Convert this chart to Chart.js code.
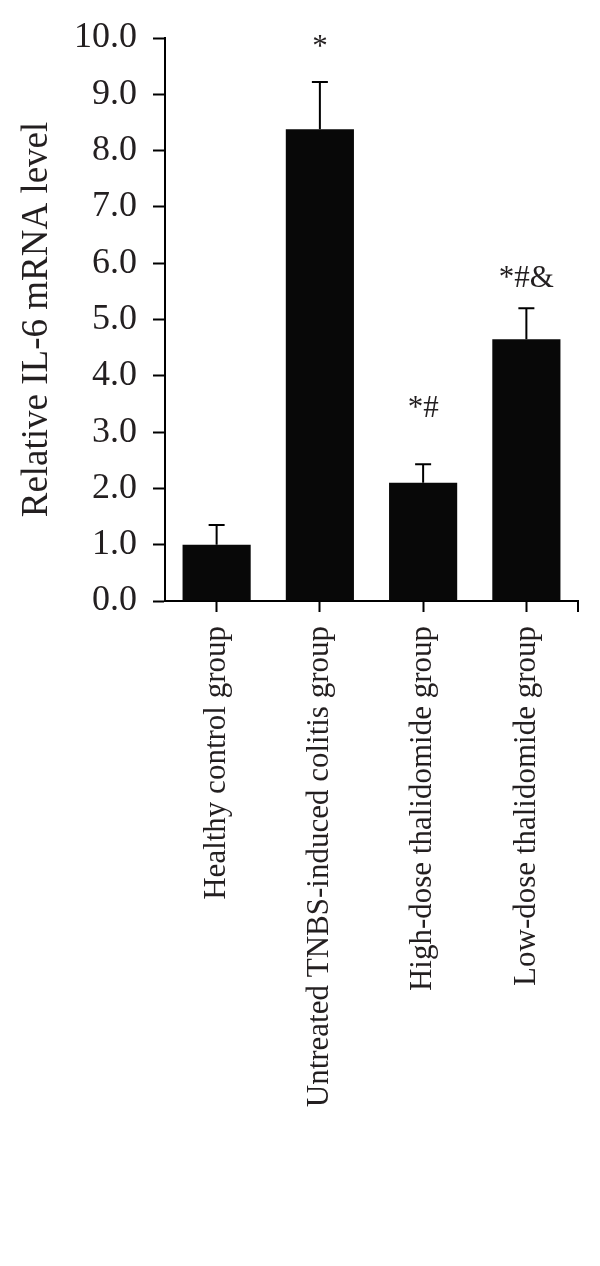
<!DOCTYPE html>
<html>
<head>
<meta charset="utf-8">
<script src="https://cdn.jsdelivr.net/npm/chart.js@4"></script>
<style>
  body { margin: 0; background: #fff; }
  #wrap { width: 600px; height: 1266px; position: relative; }
</style>
</head>
<body>
<div id="wrap"><canvas id="il6Chart"></canvas></div>
<script>
// data
const groups = ["Healthy control group", "Untreated TNBS-induced colitis group", "High-dose thalidomide group", "Low-dose thalidomide group"];
const il6Means = [1.0, 8.38, 2.1, 4.65];
const il6Errors = [0.35, 0.84, 0.33, 0.55];
const sigMarks = ["", "*", "*#", "*#&"];
const sigMarkY = [0, 9.82, 3.42, 5.72];
const yTicks = [0, 1, 2, 3, 4, 5, 6, 7, 8, 9, 10];

const ink = '#231f20';
const serif = "'Liberation Serif', 'DejaVu Serif', serif";

// error bars + significance marks, placed through the scales
const errorBarPlugin = {
  id: 'errorBars',
  afterDatasetsDraw(chart) {
    const ctx = chart.ctx;
    const xs = chart.scales.x, ys = chart.scales.y;
    ctx.save();
    ctx.strokeStyle = '#000';
    ctx.lineWidth = 2;
    for (let i = 0; i < il6Means.length; i++) {
      const x = xs.getPixelForValue(i);
      const yTop = ys.getPixelForValue(il6Means[i] + il6Errors[i]);
      const yBar = ys.getPixelForValue(il6Means[i]);
      ctx.beginPath();
      ctx.moveTo(x, yBar);
      ctx.lineTo(x, yTop);
      ctx.moveTo(x - 8, yTop);
      ctx.lineTo(x + 8, yTop);
      ctx.stroke();
      if (sigMarks[i]) {
        ctx.fillStyle = ink;
        ctx.font = "31px " + serif;
        ctx.textAlign = 'center';
        ctx.textBaseline = 'middle';
        ctx.fillText(sigMarks[i], x, ys.getPixelForValue(sigMarkY[i]));
      }
    }
    // small tick at the right end of the x axis
    const a = chart.chartArea;
    ctx.beginPath();
    ctx.moveTo(a.right, a.bottom);
    ctx.lineTo(a.right, a.bottom + 11);
    ctx.stroke();
    ctx.restore();
  }
};

new Chart("il6Chart", {
  type: "bar",
  data: {
    labels: groups,
    datasets: [{
      data: il6Means,
      backgroundColor: "#080808",
      borderWidth: 0,
      barPercentage: 0.66,
      categoryPercentage: 1.0
    }]
  },
  options: {
    responsive: true,
    maintainAspectRatio: false,
    animation: false,
    layout: { padding: { top: 38, right: 22, left: 0, bottom: 0 } },
    plugins: {
      legend: { display: false },
      tooltip: { enabled: false }
    },
    scales: {
      x: {
        afterFit(scale) { scale.height = 665; },
        grid: {
          offset: false,
          drawOnChartArea: false,
          drawTicks: true,
          tickLength: 11,
          tickWidth: 2,
          tickColor: '#000'
        },
        border: { display: true, color: '#000', width: 2 },
        ticks: {
          maxRotation: 90,
          minRotation: 90,
          padding: 14,
          color: ink,
          font: { family: serif, size: 31 }
        }
      },
      y: {
        min: 0,
        max: 10,
        afterFit(scale) { scale.width = 165; },
        afterBuildTicks(scale) { scale.ticks = yTicks.map(v => ({ value: v })); },
        grid: {
          drawOnChartArea: false,
          drawTicks: true,
          tickLength: 12,
          tickWidth: 2,
          tickColor: '#000'
        },
        border: { display: true, color: '#000', width: 2 },
        ticks: {
          padding: 16,
          color: ink,
          font: { family: serif, size: 36 },
          callback: v => Number(v).toFixed(1)
        },
        title: {
          display: true,
          text: "Relative IL-6 mRNA level",
          color: ink,
          font: { family: serif, size: 37 },
          padding: { top: 15, bottom: 0 }
        }
      }
    }
  },
  plugins: [errorBarPlugin]
});
</script>
</body>
</html>
